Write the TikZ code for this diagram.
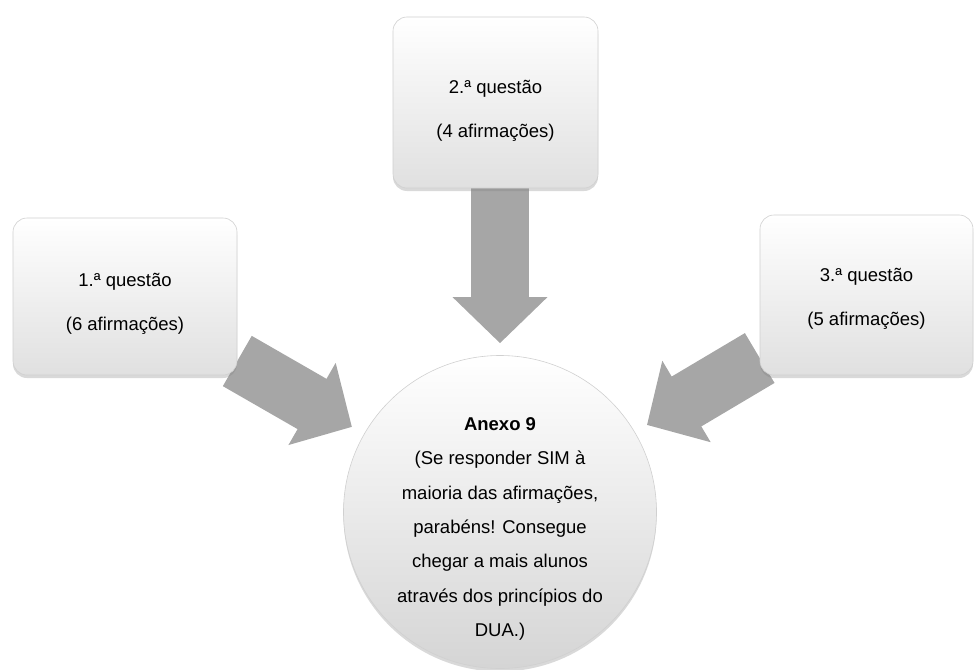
\documentclass[tikz,border=0pt]{standalone}
\usepackage{fontspec}
\setmainfont{Liberation Sans}
\usetikzlibrary{positioning, arrows.meta, shadows, backgrounds}
\definecolor{arrowgray}{HTML}{A6A6A6}
\definecolor{boxgray}{HTML}{E0E0E0}
\definecolor{edgegray}{HTML}{D0D0D0}

\begin{document}
\begin{tikzpicture}[x=1pt, y=-1pt,
    qbox/.style={draw=edgegray, line width=0.6pt, rounded corners=14pt,
      top color=white, middle color=white!97!black, bottom color=boxgray,
      drop shadow={opacity=0.3, shadow xshift=0pt, shadow yshift=-3pt}},
    qtext/.style={align=center, font=\fontsize{18.5}{44}\selectfont},
    ctext/.style={align=center, font=\fontsize{18.5}{34.4}\selectfont},
    bigarrow/.style={draw=arrowgray, line width=58pt,
      -{Triangle[length=46pt, width=92pt]}}]
  \useasboundingbox (0,0) rectangle (974,669);

  \node[qbox, minimum width=205pt, minimum height=171pt] (q2) at (495.5,102.5) {};
  \node[qbox, minimum width=224pt, minimum height=157pt] (q1) at (125,296.5) {};
  \node[qbox, minimum width=213pt, minimum height=160pt] (q3) at (866.5,295) {};
  \node[circle, minimum size=313pt, draw=edgegray, line width=0.6pt,
    top color=white, middle color=white, bottom color=boxgray!95!black,
    drop shadow={opacity=0.3, shadow xshift=0pt, shadow yshift=-3pt}] (anexo) at (500,512) {};

  \node[qtext] (q2txt) at ([yshift=-8pt]q2.center) {2.ª questão\\(4 afirmações)};
  \node[qtext] (q1txt) at ([yshift=-7pt]q1.center) {1.ª questão\\(6 afirmações)};
  \node[qtext] (q3txt) at ([yshift=-4pt]q3.center) {3.ª questão\\(5 afirmações)};
  \node[ctext] (anexotxt) at ([yshift=-17pt]anexo.center)
    {\textbf{Anexo 9}\\(Se responder SIM à\\maioria das afirmações,\\parabéns! Consegue\\chegar a mais alunos\\através dos princípios do\\DUA.)};

  \begin{pgfonlayer}{background}
    \draw[bigarrow, shorten >=12pt] (q2.center -| anexo.center) -- (anexo);
    \draw[bigarrow, shorten >=14pt] (q1) -- (anexo);
    \draw[bigarrow, shorten >=14pt] (q3) -- (anexo);
  \end{pgfonlayer}
\end{tikzpicture}
\end{document}
